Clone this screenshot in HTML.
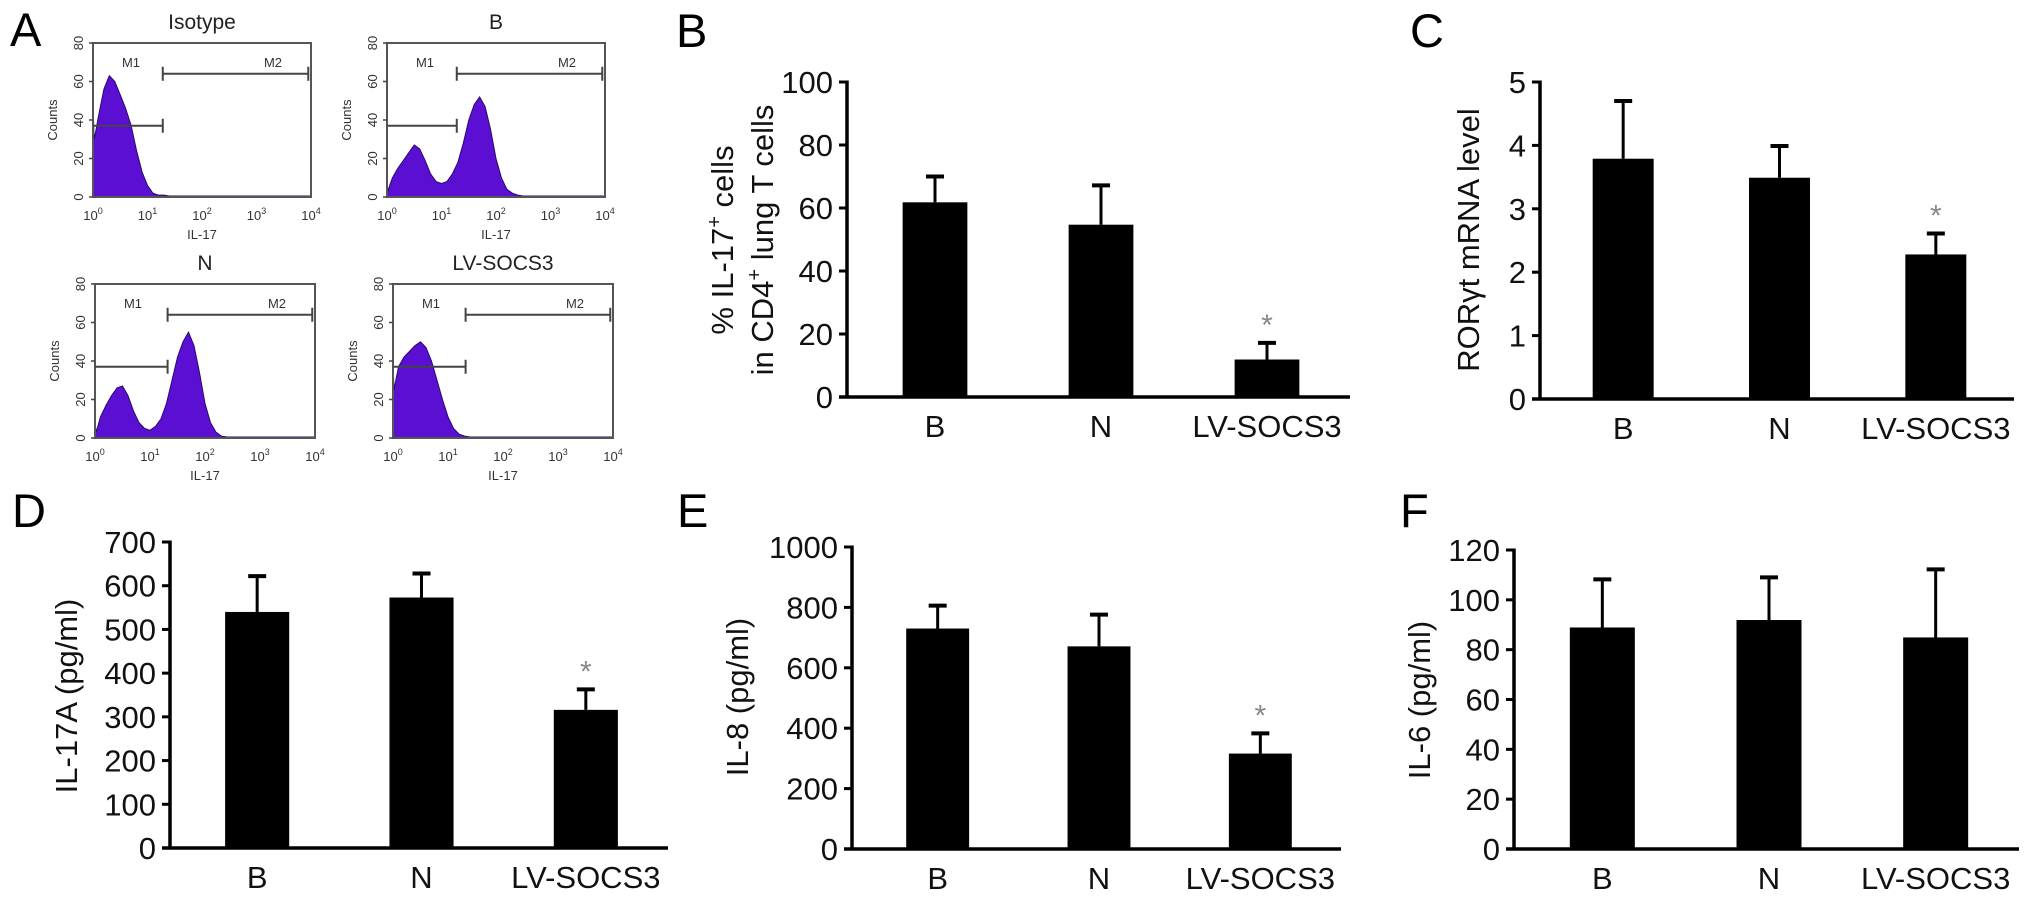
<!DOCTYPE html>
<html><head><meta charset="utf-8">
<style>
html,body{margin:0;padding:0;background:#fff;}
svg{display:block;font-family:"Liberation Sans",Arial,sans-serif;}
</style></head>
<body>
<svg id="fig" width="2032" height="903" viewBox="0 0 2032 903" xmlns="http://www.w3.org/2000/svg">
<rect x="0" y="0" width="2032" height="903" fill="#fff"/>
</svg>
<script>
// ---- Bar chart data ----
const groups = ["B", "N", "LV-SOCS3"];
const bMeans = [61.8, 54.7, 11.9];
const bErrTop = [70, 67.2, 17.2];
const bTicks = [0, 20, 40, 60, 80, 100];
const cMeans = [3.79, 3.49, 2.28];
const cErrTop = [4.70, 3.99, 2.61];
const cTicks = [0, 1, 2, 3, 4, 5];
const dMeans = [540, 573, 316];
const dErrTop = [622, 628, 363];
const dTicks = [0, 100, 200, 300, 400, 500, 600, 700];
const eMeans = [730, 671, 316];
const eErrTop = [806, 776, 383];
const eTicks = [0, 200, 400, 600, 800, 1000];
const fMeans = [88.9, 91.9, 84.9];
const fErrTop = [108.2, 109, 112.2];
const fTicks = [0, 20, 40, 60, 80, 100, 120];
const sigBCDE = [false, false, true];
const sigF = [false, false, false];

// ---- Flow histogram data (log10 IL-17 bins, counts) ----
const flowLog = [0,0.02,0.05,0.1,0.2,0.3,0.4,0.5,0.6,0.7,0.8,0.9,1.0,1.1,1.2,1.3,1.4,1.5,1.6,1.7,1.8,1.9,2.0,2.1,2.2,2.3,2.4,2.5,2.6,2.8,3.0,3.5,4.0];
const isoCounts = [50,30,34,42,56,63,60,53,46,37,24,13,6,2,1,1,0.5,0.5,0.5,0.5,0.5,0.5,0.5,0.5,0.5,0.5,0.5,0.5,0.5,0.5,0.5,0.5,0.5];
const bCounts   = [8,3,6,10,15,19,23,27,25,19,12,8,7,8,12,18,28,40,48,52,47,35,20,10,4,2,1,0.5,0.5,0.5,0.5,0.5,0.5];
const nCounts   = [8,3,6,11,17,22,26,27,22,14,8,5,4,6,10,18,30,42,50,55,48,34,18,8,3,1,0.5,0.5,0.5,0.5,0.5,0.5,0.5];
const lvCounts  = [38,25,30,37,42,45,48,50,47,40,30,20,11,5,2,1,0.5,0.5,0.5,0.5,0.5,0.5,0.5,0.5,0.5,0.5,0.5,0.5,0.5,0.5,0.5,0.5,0.5];
const flowYTicks = [0, 20, 40, 60, 80];
const flowXTicks = [0, 1, 2, 3, 4];

const NS = "http://www.w3.org/2000/svg";
const svg = document.getElementById("fig");
function mk(tag, attrs, parent) {
  const e = document.createElementNS(NS, tag);
  for (const k in attrs) e.setAttribute(k, attrs[k]);
  (parent || svg).appendChild(e);
  return e;
}
function txt(str, attrs, parent) { const t = mk("text", attrs, parent); t.textContent = str; return t; }

// ---- Bar chart drawer ----
function barChart(id, cfg, means, errTop, ticks, sig) {
  const g = mk("g", {});
  
  
  const ymax = ticks[ticks.length - 1];
  const y = v => cfg.y0 - (v / ymax) * (cfg.y0 - cfg.yTop);
  const band = (cfg.xEnd - cfg.axis - 5) / groups.length;
  const xc = i => cfg.axis + 5 + band * (i + 0.5);
  const bw = band * 0.39;
  // bars
  means.forEach((m, i) => {
    const eb = mk("line", {x1: xc(i), x2: xc(i), y1: y(m), y2: y(errTop[i]), stroke: "#000", "stroke-width": 3}, g);
    
    
    const cap = mk("line", {x1: xc(i) - 9, x2: xc(i) + 9, y1: y(errTop[i]), y2: y(errTop[i]), stroke: "#000", "stroke-width": 4}, g);
    
    
    const r = mk("rect", {x: xc(i) - bw / 2, y: y(m), width: bw, height: cfg.y0 - y(m), fill: "#000"}, g);
    
    
    const lab = txt(groups[i], {x: xc(i), y: cfg.y0 + 40, "font-size": 31, "text-anchor": "middle", fill: "#111"}, g);
    
    
    if (sig[i]) {
      const s = txt("*", {x: xc(i), y: y(errTop[i]) - 8, "font-size": 30, "text-anchor": "middle", fill: "#888"}, g);
      
      
    }
  });
  // axes
  const ya = mk("line", {x1: cfg.axis, x2: cfg.axis, y1: cfg.yTop - 1.5, y2: cfg.y0 + 1.5, stroke: "#000", "stroke-width": 3.5}, g);
  
  
  const xa = mk("line", {x1: cfg.axis - 8, x2: cfg.xEnd, y1: cfg.y0, y2: cfg.y0, stroke: "#000", "stroke-width": 3.5}, g);
  
  
  ticks.forEach(t => {
    const tk = mk("line", {x1: cfg.axis - 8, x2: cfg.axis, y1: y(t), y2: y(t), stroke: "#000", "stroke-width": 3}, g);
    
    
    const tl = txt(String(t), {x: cfg.axis - 14, y: y(t) + 11, "font-size": 31, "text-anchor": "end", fill: "#111"}, g);
    
    
  });
  return g;
}

barChart("panel-b", {axis: 847, xEnd: 1350, y0: 397, yTop: 82}, bMeans, bErrTop, bTicks, sigBCDE);
barChart("panel-c", {axis: 1540, xEnd: 2014, y0: 399, yTop: 82}, cMeans, cErrTop, cTicks, sigBCDE);
barChart("panel-d", {axis: 170, xEnd: 668, y0: 848, yTop: 542}, dMeans, dErrTop, dTicks, sigBCDE);
barChart("panel-e", {axis: 852, xEnd: 1341, y0: 849, yTop: 547}, eMeans, eErrTop, eTicks, sigBCDE);
barChart("panel-f", {axis: 1514, xEnd: 2019, y0: 849, yTop: 550}, fMeans, fErrTop, fTicks, sigF);

// ---- Y axis titles ----
function vtitle(name, lines, x, y) {
  const t = mk("text", {transform: `translate(${x},${y}) rotate(-90)`, "font-size": 31, "text-anchor": "middle", fill: "#111"});
  
  
  lines.forEach((ln, i) => {
    const ts = mk("tspan", {x: 0, dy: i === 0 ? 0 : 40}, t);
    ln.forEach(part => {
      const p = mk("tspan", part.sup ? {"font-size": 20, dy: -12} : (part.down ? {dy: 12} : {}), ts);
      p.textContent = part.t;
    });
  });
}
vtitle("panel-b-y-title", [[{t:"% IL-17"},{t:"+",sup:true},{t:" cells",down:true}],[{t:"in CD4"},{t:"+",sup:true},{t:" lung T cells",down:true}]], 733, 240);
vtitle("panel-c-y-title", [[{t:"ROR\u03B3t mRNA level"}]], 1479, 240);
vtitle("panel-d-y-title", [[{t:"IL-17A (pg/ml)"}]], 77, 696);
vtitle("panel-e-y-title", [[{t:"IL-8 (pg/ml)"}]], 748, 697);
vtitle("panel-f-y-title", [[{t:"IL-6 (pg/ml)"}]], 1430, 700);

// ---- Panel letters ----
[["A",10,46],["B",676,47],["C",1410,47],["D",12,527],["E",677,527],["F",1400,527]].forEach(p => {
  const l = txt(p[0], {x: p[1], y: p[2], "font-size": 47, fill: "#000"});
  
  
});

// ---- Flow histograms ----
function flow(id, title, bx, by, bw, bh, counts, gateLog, m1y, m2y) {
  const g = mk("g", {});
  
  
  const x = l => bx + (l / 4) * bw;
  const y = c => by + bh - (c / 80) * bh;
  let d = `M${x(0)},${y(0)}`;
  flowLog.forEach((l, i) => { d += ` L${x(l).toFixed(1)},${y(counts[i]).toFixed(1)}`; });
  d += ` L${x(4)},${y(0)} Z`;
  const h = mk("path", {d: d, fill: "#5a0fd2", stroke: "#2a0a70", "stroke-width": 1}, g);
  
  
  const box = mk("rect", {x: bx, y: by, width: bw, height: bh, fill: "none", stroke: "#555", "stroke-width": 2}, g);
  
  
  const t = txt(title, {x: bx + bw / 2, y: by - 14, "font-size": 21, "text-anchor": "middle", fill: "#222"}, g);
  
  
  flowYTicks.forEach(c => {
    const tk = mk("line", {x1: bx - 4, x2: bx, y1: y(c), y2: y(c), stroke: "#444", "stroke-width": 1.5}, g);
    
    
    const tl = txt(String(c), {transform: `translate(${bx - 10},${y(c)}) rotate(-90)`, "font-size": 13, "text-anchor": "middle", fill: "#333"}, g);
    
    
  });
  flowXTicks.forEach(l => {
    const tl = mk("text", {x: x(l), y: by + bh + 23, "font-size": 13, "text-anchor": "middle", fill: "#333"}, g);
    
    
    const a = mk("tspan", {}, tl); a.textContent = "10";
    const b = mk("tspan", {"font-size": 9, dy: -6}, tl); b.textContent = String(l);
  });
  const yl = txt("Counts", {transform: `translate(${bx - 36},${by + bh / 2}) rotate(-90)`, "font-size": 13, "text-anchor": "middle", fill: "#333"}, g);
  
  
  const xl = txt("IL-17", {x: bx + bw / 2, y: by + bh + 42, "font-size": 13, "text-anchor": "middle", fill: "#333"}, g);
  
  
  // gates
  const gx = x(gateLog), ex = x(3.95);
  const m1 = mk("path", {d: `M${bx},${y(m1y)} L${gx},${y(m1y)} M${gx},${y(m1y) - 7} L${gx},${y(m1y) + 7}`, stroke: "#444", "stroke-width": 2, fill: "none"}, g);
  
  
  const m2 = mk("path", {d: `M${gx},${y(m2y)} L${ex},${y(m2y)} M${gx},${y(m2y) - 7} L${gx},${y(m2y) + 7} M${ex},${y(m2y) - 7} L${ex},${y(m2y) + 7}`, stroke: "#444", "stroke-width": 2, fill: "none"}, g);
  
  
  const l1 = txt("M1", {x: bx + 38, y: by + 24, "font-size": 13, "text-anchor": "middle", fill: "#333"}, g);
  
  
  const l2 = txt("M2", {x: bx + bw - 38, y: by + 24, "font-size": 13, "text-anchor": "middle", fill: "#333"}, g);
  
  
}
flow("flow-isotype", "Isotype", 93, 43, 218, 154, isoCounts, 1.28, 37, 64);
flow("flow-b", "B", 387, 43, 218, 154, bCounts, 1.28, 37, 64);
flow("flow-n", "N", 95, 284, 220, 154, nCounts, 1.32, 37, 64);
flow("flow-lv-socs3", "LV-SOCS3", 393, 284, 220, 154, lvCounts, 1.32, 37, 64);
</script>
</body></html>
